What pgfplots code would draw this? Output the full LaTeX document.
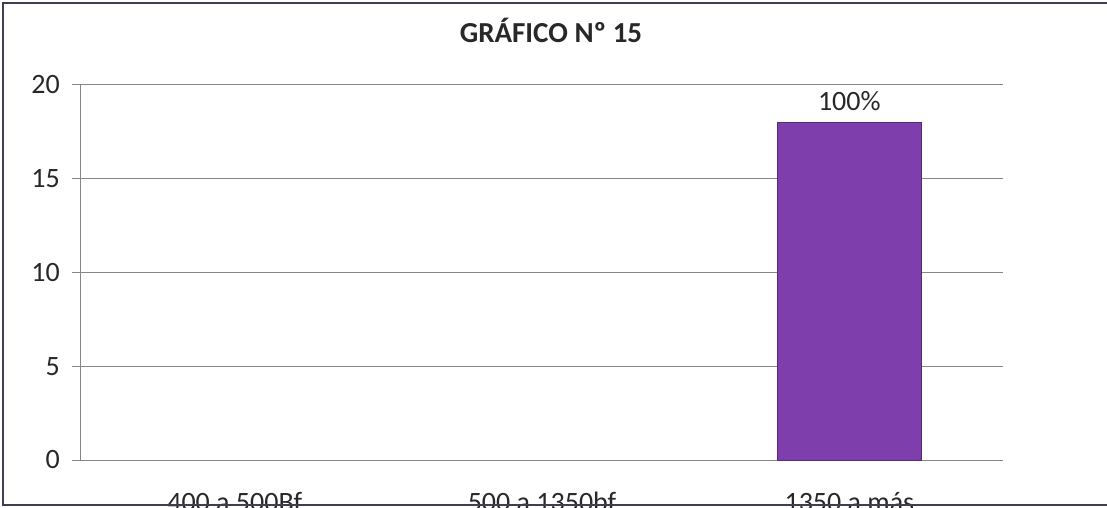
\documentclass[border=0pt]{standalone}
\usepackage{pgfplots}
\pgfplotsset{compat=1.18}
\usepackage{fontspec}
\setmainfont{Carlito}

\definecolor{barpurple}{RGB}{126,62,172}
\definecolor{gridgray}{RGB}{134,134,134}
\definecolor{framecol}{RGB}{62,62,84}
\definecolor{labcol}{RGB}{40,40,40}

\begin{document}
\begin{tikzpicture}[x=1pt,y=1pt]
\path[use as bounding box] (0,0) rectangle (1107,508);
\clip (0,0) rectangle (1107,508);
\begin{axis}[
 at={(81pt,48pt)}, anchor=south west,
 scale only axis,
 width=922pt, height=375pt,
 xmin=-0.5, xmax=2.5,
 ymin=0, ymax=20,
 ytick={0,5,10,15,20},
 xtick={0,1,2},
 xticklabels={400 a 500Bf, 500 a 1350bf, 1350 a más},
 axis x line*=bottom,
 axis y line*=left,
 axis line style={gridgray, line width=1pt},
 ymajorgrids=true,
 grid style={gridgray, line width=1pt},
 tick align=outside,
 major tick length=9pt,
 major x tick style={draw=none},
 y tick style={gridgray, line width=1pt},
 extra x ticks={-0.5,0.5,1.5,2.5},
 extra x tick labels={},
 extra x tick style={grid=none, major tick length=10pt, tick style={draw=gridgray, line width=1pt}},
 /pgf/number format/assume math mode=true,
 tick label style={font=\fontsize{28}{34}\selectfont, text=labcol},
 yticklabel style={anchor=east, inner sep=0pt, xshift=-12pt},
 xticklabel style={anchor=base, inner sep=0pt, yshift=-42pt},
 nodes near coords={100\%},
 nodes near coords style={font=\fontsize{28}{34}\selectfont, text=labcol, anchor=south, inner sep=0pt, yshift=11pt},
]
\addplot[ybar, bar width=0.47, fill=barpurple, draw=barpurple!70!black, line width=0.8pt]
 coordinates {(2,18)};
\end{axis}
\node[font=\fontsize{29}{34}\selectfont\bfseries, text=labcol] at (551,478) {GRÁFICO Nº 15};
\draw[framecol, line width=2.5pt] (1112,505) -- (3,505) -- (3,3) -- (1112,3);
\end{tikzpicture}
\end{document}
